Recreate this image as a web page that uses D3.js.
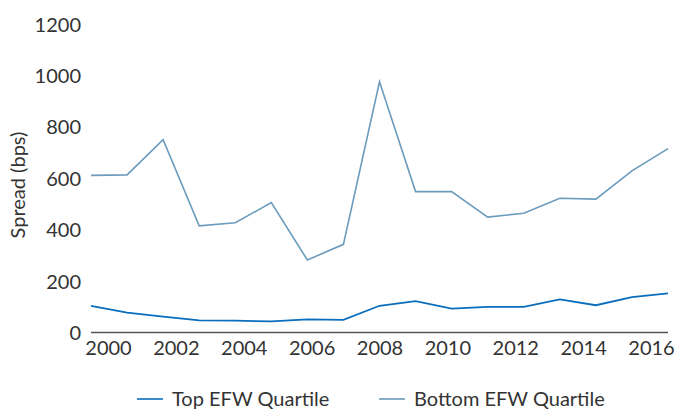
<!DOCTYPE html>
<html>
<head>
<meta charset="utf-8">
<script src="https://cdn.jsdelivr.net/npm/d3@7"></script>
<style>
  body { margin: 0; background: #fff; }
  text { font-family: Lato, "Open Sans", sans-serif; fill: #333; }
</style>
</head>
<body>
<script>
// spread chart, top vs bottom EFW quartile

var width = 675;
var height = 412;

var years = [2000, 2001, 2002, 2003, 2004, 2005, 2006, 2007, 2008,
             2009, 2010, 2011, 2012, 2013, 2014, 2015, 2016];
var topQuartile = [104, 77, 62, 47, 46, 43, 51, 49, 104, 122, 93, 100, 100, 129, 106, 138, 152];
var bottomQuartile = [611, 613, 750, 415, 427, 505, 282, 343, 975, 548, 548, 449, 464, 522, 519, 629, 715];
var tickYears = [2000, 2002, 2004, 2006, 2008, 2010, 2012, 2014, 2016];
var yTicks = [0, 200, 400, 600, 800, 1000, 1200];

var series = [
  {name: 'Top EFW Quartile', values: topQuartile, color: '#0a6ebd'},
  {name: 'Bottom EFW Quartile', values: bottomQuartile, color: '#6b9bbd'}
];

var svg = d3.select('body').append('svg')
  .attr('width', width)
  .attr('height', height);

// data points sit on a point scale, labels on a linear year scale
var x = d3.scalePoint().domain(years).range([91, 668]);
var xLabel = d3.scaleLinear().domain([2000, 2016]).range([108, 651]);
var y = d3.scaleLinear().domain([0, 1200]).range([332.5, 24]);

// y labels
svg.append('g')
  .attr('transform', 'translate(81,0)')
  .call(d3.axisLeft(y).tickValues(yTicks).tickFormat(d3.format('d')).tickSize(0).tickPadding(0))
  .call(function(g){ g.select('.domain').remove(); })
  .selectAll('text')
  .style('font-size', '20px')
  .attr('dy', '0.35em');

// x labels
svg.append('g')
  .attr('transform', 'translate(0,332.5)')
  .call(d3.axisBottom(xLabel).tickValues(tickYears).tickFormat(d3.format('d')).tickSize(0).tickPadding(8))
  .call(function(g){ g.select('.domain').remove(); })
  .selectAll('text')
  .style('font-size', '20px');

// baseline
svg.append('line')
  .attr('x1', x(2000)).attr('x2', x(2016))
  .attr('y1', y(0)).attr('y2', y(0))
  .attr('stroke', '#555')
  .attr('stroke-width', 1.3);

var line = d3.line()
  .x(function(d, i){ return x(years[i]); })
  .y(function(d){ return y(d); });

svg.selectAll('path.series')
  .data(series)
  .enter().append('path')
  .attr('class', 'series')
  .attr('d', function(d){ return line(d.values); })
  .attr('fill', 'none')
  .attr('stroke', function(d){ return d.color; })
  .attr('stroke-width', function(d, i){ return i === 0 ? 1.8 : 1.6; });

// axis title
svg.append('text')
  .attr('transform', 'translate(25,185) rotate(-90)')
  .attr('text-anchor', 'middle')
  .style('font-size', '20px')
  .text('Spread (bps)');

// legend
var legendX = [137, 379];
var legend = svg.selectAll('g.legend')
  .data(series)
  .enter().append('g')
  .attr('class', 'legend')
  .attr('transform', function(d, i){ return 'translate(' + legendX[i] + ',399)'; });

legend.append('line')
  .attr('x1', 0).attr('x2', 26)
  .attr('stroke', function(d){ return d.color; })
  .attr('stroke-width', 1.6);

legend.append('text')
  .attr('x', 35)
  .attr('y', 7)
  .style('font-size', '20px')
  .text(function(d){ return d.name; });
</script>
</body>
</html>
